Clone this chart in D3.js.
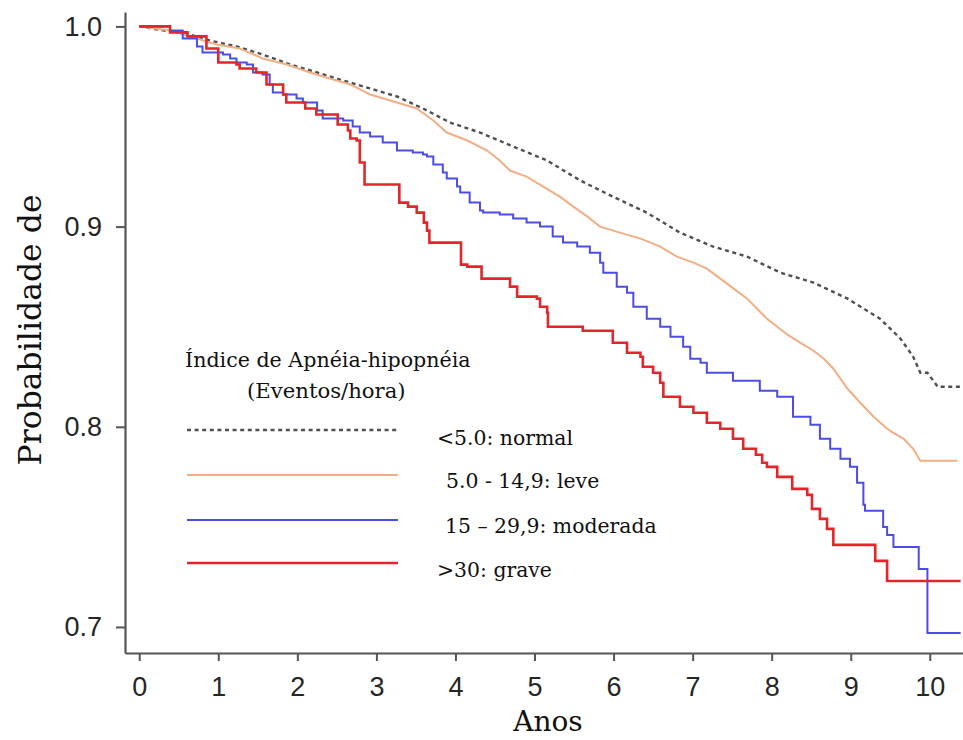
<!DOCTYPE html>
<html><head><meta charset="utf-8">
<script src="https://cdn.jsdelivr.net/npm/d3@7"></script>
<style>body{margin:0;background:#fff}svg{display:block}</style>
</head><body>
<svg id="c" width="963" height="740"></svg>
<script>
// ---- data (years, survival probability) ----
const normal = [[0,1.000],[0.30,0.998],[0.55,0.997],[0.89,0.993],[1.23,0.990],[1.56,0.986],[1.91,0.981],[2.25,0.977],[2.58,0.973],[2.92,0.969],[3.26,0.965],[3.59,0.959],[3.93,0.952],[4.31,0.947],[4.73,0.940],[5.16,0.933],[5.58,0.923],[5.99,0.915],[6.42,0.907],[6.84,0.897],[7.26,0.890],[7.69,0.885],[8.11,0.877],[8.53,0.872],[8.96,0.864],[9.37,0.854],[9.63,0.844],[9.79,0.835],[9.88,0.827],[9.97,0.827],[10.10,0.820],[10.39,0.820]];
const leve = [[0,1.000],[0.39,0.998],[0.73,0.994],[0.98,0.991],[1.27,0.989],[1.56,0.984],[1.87,0.981],[2.16,0.977],[2.41,0.974],[2.67,0.971],[2.92,0.966],[3.26,0.962],[3.51,0.959],[3.72,0.953],[3.89,0.947],[4.15,0.943],[4.40,0.938],[4.56,0.933],[4.69,0.928],[4.90,0.925],[5.11,0.920],[5.32,0.915],[5.49,0.910],[5.67,0.905],[5.83,0.900],[6.08,0.897],[6.34,0.894],[6.59,0.890],[6.80,0.885],[7.01,0.882],[7.18,0.879],[7.35,0.874],[7.52,0.869],[7.69,0.864],[7.94,0.854],[8.20,0.846],[8.36,0.842],[8.53,0.838],[8.66,0.834],[8.78,0.829],[8.96,0.819],[9.12,0.812],[9.29,0.805],[9.46,0.799],[9.54,0.797],[9.67,0.794],[9.79,0.789],[9.88,0.783],[10.35,0.783]];
const moderada = [[0,1.000],[0.39,0.998],[0.55,0.994],[0.73,0.990],[0.80,0.987],[1.06,0.986],[1.15,0.984],[1.23,0.982],[1.36,0.981],[1.44,0.977],[1.56,0.976],[1.65,0.971],[1.69,0.967],[1.82,0.966],[1.99,0.964],[2.07,0.962],[2.25,0.958],[2.32,0.954],[2.58,0.953],[2.70,0.950],[2.79,0.947],[2.92,0.945],[3.08,0.942],[3.26,0.938],[3.46,0.937],[3.59,0.936],[3.64,0.935],[3.72,0.931],[3.84,0.927],[3.89,0.924],[4.02,0.920],[4.06,0.917],[4.18,0.912],[4.31,0.908],[4.35,0.907],[4.56,0.906],[4.73,0.904],[4.90,0.902],[5.07,0.900],[5.23,0.895],[5.36,0.892],[5.54,0.890],[5.70,0.887],[5.83,0.882],[5.87,0.877],[6.04,0.870],[6.17,0.867],[6.25,0.860],[6.42,0.854],[6.59,0.850],[6.72,0.845],[6.88,0.840],[6.97,0.834],[7.10,0.832],[7.18,0.827],[7.51,0.823],[7.85,0.818],[8.07,0.815],[8.27,0.805],[8.49,0.801],[8.61,0.794],[8.74,0.789],[8.87,0.784],[8.99,0.780],[9.08,0.772],[9.16,0.761],[9.18,0.758],[9.41,0.750],[9.46,0.746],[9.54,0.740],[9.86,0.729],[9.97,0.697],[10.39,0.697]];
const grave = [[0,1.000],[0.39,0.997],[0.61,0.995],[0.85,0.989],[1.00,0.982],[1.23,0.981],[1.27,0.979],[1.48,0.977],[1.61,0.971],[1.82,0.966],[1.86,0.962],[2.10,0.959],[2.24,0.956],[2.51,0.951],[2.64,0.948],[2.67,0.944],[2.75,0.943],[2.79,0.932],[2.85,0.921],[3.29,0.912],[3.40,0.910],[3.51,0.907],[3.60,0.902],[3.64,0.898],[3.67,0.892],[4.07,0.881],[4.15,0.880],[4.33,0.874],[4.69,0.870],[4.78,0.865],[5.03,0.864],[5.07,0.860],[5.16,0.857],[5.17,0.850],[5.61,0.848],[5.99,0.842],[6.17,0.837],[6.34,0.835],[6.37,0.830],[6.50,0.827],[6.59,0.822],[6.63,0.815],[6.84,0.810],[7.01,0.807],[7.18,0.802],[7.35,0.799],[7.51,0.794],[7.64,0.789],[7.80,0.786],[7.88,0.782],[7.94,0.780],[8.07,0.775],[8.26,0.769],[8.45,0.766],[8.51,0.759],[8.61,0.754],[8.70,0.749],[8.78,0.741],[9.31,0.733],[9.46,0.723],[10.39,0.723]];
const xTicks = [0,1,2,3,4,5,6,7,8,9,10];
const yTicks = [0.7,0.8,0.9,1.0];
const legendTitle = ["Índice de Apnéia-hipopnéia","(Eventos/hora)"];
const legendLabels = ["<5.0: normal","5.0 - 14,9: leve","15 – 29,9: moderada",">30: grave"];
const xTitle = "Anos";
const yTitle = "Probabilidade de";

// ---- drawing ----
const svg = d3.select("#c");
const x = d3.scaleLinear().domain([-0.18, 10.42]).range([125, 963]);
const y = d3.scaleLinear().domain([0.687, 1.0072]).range([653, 12]);

const series = [
  {data: normal,   color: "#505050", width: 2.4, dash: "4,3.6", curve: d3.curveLinear},
  {data: leve,     color: "#f2ae84", width: 2,   dash: null,    curve: d3.curveLinear},
  {data: moderada, color: "#4c4ce6", width: 2,   dash: null,    curve: d3.curveStepAfter},
  {data: grave,    color: "#e4262c", width: 2.6, dash: null,    curve: d3.curveStepAfter}
];

series.forEach(s => {
  const line = d3.line().x(d => x(d[0])).y(d => y(d[1])).curve(s.curve);
  svg.append("path").attr("d", line(s.data)).attr("fill","none")
    .attr("stroke", s.color).attr("stroke-width", s.width)
    .attr("stroke-dasharray", s.dash);
});

// axes
const yAxis = svg.append("g").attr("transform","translate(125,0)")
  .call(d3.axisLeft(y).tickValues(yTicks).tickFormat(d3.format(".1f")).tickSize(9).tickSizeOuter(0).tickPadding(14));
const xAxis = svg.append("g").attr("transform","translate(0,653)")
  .call(d3.axisBottom(x).tickValues(xTicks).tickFormat(d3.format("d")).tickSize(8).tickSizeOuter(0).tickPadding(16));
[yAxis, xAxis].forEach(a => {
  a.selectAll("path.domain").attr("stroke","#555").attr("stroke-width",2.2);
  a.selectAll(".tick line").attr("stroke","#555").attr("stroke-width",2);
  a.selectAll(".tick text").attr("fill","#262626").style("font-family","'Liberation Sans', Arial, sans-serif").style("font-size","27px");
});

// titles
const serif = "'DejaVu Serif', 'Liberation Serif', serif";
svg.append("text").attr("x", 548).attr("y", 731).attr("text-anchor","middle")
  .style("font-family", serif).style("font-size","28px").attr("fill","#111").text(xTitle);
svg.append("text").attr("transform","translate(41,330) rotate(-90)").attr("text-anchor","middle")
  .style("font-family", serif).style("font-size","31.5px").attr("fill","#111").text(yTitle);

// legend
const lg = svg.append("g");
lg.append("text").attr("x",185).attr("y",367).style("font-family",serif).style("font-size","20.6px").attr("fill","#111").text(legendTitle[0]);
lg.append("text").attr("x",247).attr("y",398).style("font-family",serif).style("font-size","21.2px").attr("fill","#111").text(legendTitle[1]);
const legY = [430, 475, 520, 563];
const legTx = [437, 446, 445, 437];
const legBase = [445, 488, 533, 577];
series.forEach((s,i) => {
  lg.append("line").attr("x1",187).attr("x2",398).attr("y1",legY[i]).attr("y2",legY[i])
    .attr("stroke", s.color).attr("stroke-width", s.width).attr("stroke-dasharray", s.dash);
  lg.append("text").attr("x",legTx[i]).attr("y",legBase[i]).style("font-family",serif).style("font-size","20.4px")
    .attr("fill","#111").text(legendLabels[i]);
});
</script>
</body></html>
